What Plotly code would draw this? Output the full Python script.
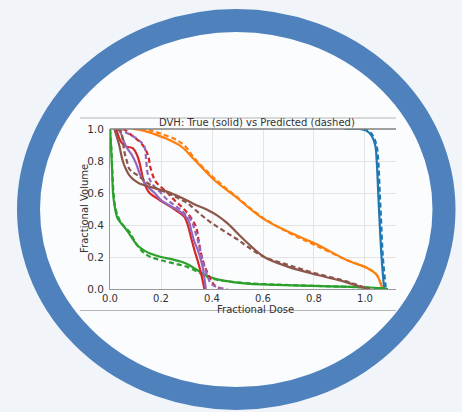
import plotly.graph_objects as go

# ---------------- data ----------------
tick_vals = [0.0, 0.2, 0.4, 0.6, 0.8, 1.0]
tick_text = ["0.0", "0.2", "0.4", "0.6", "0.8", "1.0"]

blue_true_x = [0.92, 0.98, 1.005, 1.025, 1.04, 1.046, 1.052, 1.058, 1.065, 1.075]
blue_true_y = [1.0, 1.0, 0.99, 0.96, 0.9, 0.8, 0.6, 0.4, 0.2, 0.0]
blue_pred_x = [0.93, 0.99, 1.012, 1.03, 1.045, 1.052, 1.058, 1.064, 1.07, 1.082]
blue_pred_y = [1.0, 1.0, 0.99, 0.96, 0.9, 0.8, 0.6, 0.4, 0.2, 0.0]

orange_true_x = [0.09, 0.13, 0.17, 0.22, 0.28, 0.33, 0.41, 0.49, 0.6, 0.71, 0.81, 0.93, 1.01, 1.045, 1.06, 1.068]
orange_true_y = [1.0, 0.99, 0.97, 0.94, 0.89, 0.81, 0.68, 0.58, 0.44, 0.35, 0.28, 0.18, 0.13, 0.09, 0.04, 0.0]
orange_pred_x = [0.12, 0.16, 0.2, 0.25, 0.29, 0.33, 0.41, 0.49, 0.6, 0.71, 0.81, 0.93, 1.01, 1.045, 1.06, 1.07]
orange_pred_y = [1.0, 0.99, 0.97, 0.94, 0.9, 0.82, 0.69, 0.585, 0.445, 0.345, 0.27, 0.18, 0.13, 0.09, 0.04, 0.0]

green_true_x = [0.0, 0.004, 0.008, 0.012, 0.018, 0.03, 0.05, 0.069, 0.09, 0.109, 0.135, 0.16, 0.2, 0.245,
                0.28, 0.31, 0.34, 0.37, 0.4, 0.435, 0.5, 0.55, 0.65, 0.75, 0.9, 1.01, 1.06, 1.09]
green_true_y = [1.0, 0.9, 0.75, 0.6, 0.52, 0.44, 0.4, 0.36, 0.31, 0.27, 0.24, 0.22, 0.2, 0.185,
                0.17, 0.15, 0.12, 0.09, 0.07, 0.055, 0.04, 0.032, 0.026, 0.021, 0.015, 0.01, 0.006, 0.0]
green_pred_x = [0.0, 0.006, 0.01, 0.015, 0.022, 0.035, 0.05, 0.075, 0.1, 0.13, 0.16, 0.2, 0.25, 0.3,
                0.34, 0.37, 0.4, 0.45, 0.55, 0.7, 0.9, 1.05, 1.08]
green_pred_y = [1.0, 0.85, 0.7, 0.58, 0.5, 0.44, 0.4, 0.36, 0.29, 0.23, 0.2, 0.18, 0.16, 0.14,
                0.11, 0.085, 0.065, 0.05, 0.035, 0.025, 0.015, 0.005, 0.0]

red_true_x = [0.025, 0.043, 0.065, 0.089, 0.108, 0.12, 0.128, 0.14, 0.155, 0.174, 0.2, 0.226, 0.26,
              0.291, 0.305, 0.318, 0.331, 0.345, 0.357, 0.365, 0.37]
red_true_y = [1.0, 0.92, 0.89, 0.88, 0.83, 0.76, 0.7, 0.64, 0.6, 0.577, 0.55, 0.525, 0.49,
              0.452, 0.4, 0.32, 0.244, 0.17, 0.098, 0.04, 0.0]
red_pred_x = [0.05, 0.063, 0.085, 0.102, 0.128, 0.148, 0.16, 0.18, 0.22, 0.252, 0.28, 0.305, 0.337,
              0.347, 0.357, 0.37, 0.383, 0.395, 0.409, 0.435]
red_pred_y = [1.0, 0.99, 0.96, 0.94, 0.9, 0.84, 0.75, 0.67, 0.61, 0.556, 0.515, 0.473, 0.39,
              0.31, 0.223, 0.15, 0.098, 0.06, 0.025, 0.0]

purple_true_x = [0.035, 0.043, 0.063, 0.085, 0.102, 0.122, 0.148, 0.175, 0.2, 0.235, 0.265, 0.298,
                 0.31, 0.318, 0.33, 0.344, 0.355, 0.363, 0.37, 0.376]
purple_true_y = [1.0, 0.973, 0.89, 0.84, 0.785, 0.7, 0.64, 0.6, 0.556, 0.52, 0.494, 0.452,
                 0.42, 0.369, 0.3, 0.244, 0.19, 0.14, 0.07, 0.0]
purple_pred_x = [0.03, 0.06, 0.095, 0.12, 0.135, 0.142, 0.148, 0.16, 0.174, 0.2, 0.226, 0.278, 0.318,
                 0.33, 0.344, 0.357, 0.37, 0.385, 0.396, 0.42, 0.461]
purple_pred_y = [1.0, 0.98, 0.95, 0.92, 0.89, 0.8, 0.72, 0.67, 0.64, 0.6, 0.556, 0.494, 0.43,
                 0.38, 0.306, 0.22, 0.14, 0.07, 0.035, 0.012, 0.0]

brown_true_x = [0.017, 0.025, 0.036, 0.05, 0.065, 0.076, 0.095, 0.115, 0.154, 0.22, 0.285, 0.337,
                0.383, 0.42, 0.461, 0.527, 0.605, 0.697, 0.814, 0.919, 0.97, 1.01]
brown_true_y = [1.0, 0.96, 0.9, 0.8, 0.74, 0.71, 0.68, 0.66, 0.64, 0.61, 0.567, 0.525,
                0.494, 0.46, 0.41, 0.306, 0.2, 0.14, 0.0875, 0.046, 0.02, 0.0]
brown_pred_x = [0.03, 0.043, 0.056, 0.066, 0.076, 0.09, 0.108, 0.141, 0.18, 0.226, 0.265, 0.305,
                0.345, 0.383, 0.42, 0.461, 0.5, 0.54, 0.605, 0.7, 0.8, 0.9, 0.97, 1.02]
brown_pred_y = [1.0, 0.98, 0.86, 0.8, 0.75, 0.73, 0.71, 0.67, 0.63, 0.6, 0.57, 0.535,
                0.48, 0.43, 0.39, 0.348, 0.31, 0.264, 0.2, 0.15, 0.1, 0.06, 0.025, 0.0]

series = [
    ("#1f77b4", blue_true_x, blue_true_y, blue_pred_x, blue_pred_y),
    ("#ff7f0e", orange_true_x, orange_true_y, orange_pred_x, orange_pred_y),
    ("#2ca02c", green_true_x, green_true_y, green_pred_x, green_pred_y),
    ("#d62728", red_true_x, red_true_y, red_pred_x, red_pred_y),
    ("#9467bd", purple_true_x, purple_true_y, purple_pred_x, purple_pred_y),
    ("#8c564b", brown_true_x, brown_true_y, brown_pred_x, brown_pred_y),
]

fig = go.Figure()
for color, tx, ty, px, py in series:
    fig.add_trace(go.Scatter(x=px, y=py, mode="lines", line=dict(color=color, width=2.2, dash="5px,3px"),
                             line_shape="spline", showlegend=False, hoverinfo="skip"))
    fig.add_trace(go.Scatter(x=tx, y=ty, mode="lines", line=dict(color=color, width=2.2),
                             line_shape="spline", showlegend=False, hoverinfo="skip"))

FONT = "DejaVu Sans"

# plot area: px 110..396, py 129..289
def xp(px):
    return (px - 110) / 286.0

def yp(py):
    return (289 - py) / 160.0

shapes = [
    # blue ring with near-white interior
    dict(type="circle", xref="paper", yref="paper", layer="below",
         x0=xp(28.5), x1=xp(444), y0=yp(398.5), y1=yp(20.5),
         line=dict(color="#4f81bd", width=23), fillcolor="#fbfcfd"),
    # framing lines of the pasted chart
    dict(type="line", xref="paper", yref="paper", x0=xp(80), x1=xp(396), y0=yp(118), y1=yp(118),
         line=dict(color="#b5b5b5", width=1)),
    dict(type="line", xref="paper", yref="paper", x0=xp(80), x1=xp(396), y0=yp(310.5), y1=yp(310.5),
         line=dict(color="#b5b5b5", width=1)),
    # top spine
    dict(type="line", xref="paper", yref="paper", x0=0, x1=1, y0=1, y1=1,
         line=dict(color="#808080", width=1.3)),
]

annotations = [
    dict(text="DVH: True (solid) vs Predicted (dashed)", xref="paper", yref="paper",
         x=xp(257), y=yp(123), showarrow=False, xanchor="center", yanchor="middle",
         font=dict(family=FONT, size=10, color="#333333")),
    dict(text="Fractional Dose", xref="paper", yref="paper",
         x=xp(255), y=yp(309), showarrow=False, xanchor="center", yanchor="middle",
         font=dict(family=FONT, size=10, color="#333333")),
    dict(text="Fractional Volume", xref="paper", yref="paper", textangle=-90,
         x=xp(84), y=yp(209), showarrow=False, xanchor="center", yanchor="middle",
         font=dict(family=FONT, size=10, color="#333333")),
]

fig.update_layout(
    width=462, height=412, autosize=False,
    margin=dict(l=110, r=66, t=129, b=123, pad=0),
    paper_bgcolor="#f1f5f9", plot_bgcolor="rgba(0,0,0,0)",
    shapes=shapes, annotations=annotations, showlegend=False,
    xaxis=dict(range=[0, 1.1216], tickvals=tick_vals, ticktext=tick_text, showgrid=True,
               gridcolor="#e3e3e3", gridwidth=1, zeroline=False, showline=True, linecolor="#999999",
               linewidth=1, ticks="", ticklen=0, tickfont=dict(family=FONT, size=10, color="#333333"),
               ticklabelstandoff=0),
    yaxis=dict(range=[0, 1.0], tickvals=tick_vals, ticktext=tick_text, showgrid=True,
               gridcolor="#e3e3e3", gridwidth=1, zeroline=False, showline=True, linecolor="#999999",
               linewidth=1, ticks="", ticklen=0, tickfont=dict(family=FONT, size=10.5, color="#333333"),
               ticklabelstandoff=3),
)

fig.write_html(
    "out.html",
    config={"displayModeBar": False, "staticPlot": True},
    post_script="document.body.style.margin='0';document.body.style.padding='0';document.body.style.overflow='hidden';",
)
